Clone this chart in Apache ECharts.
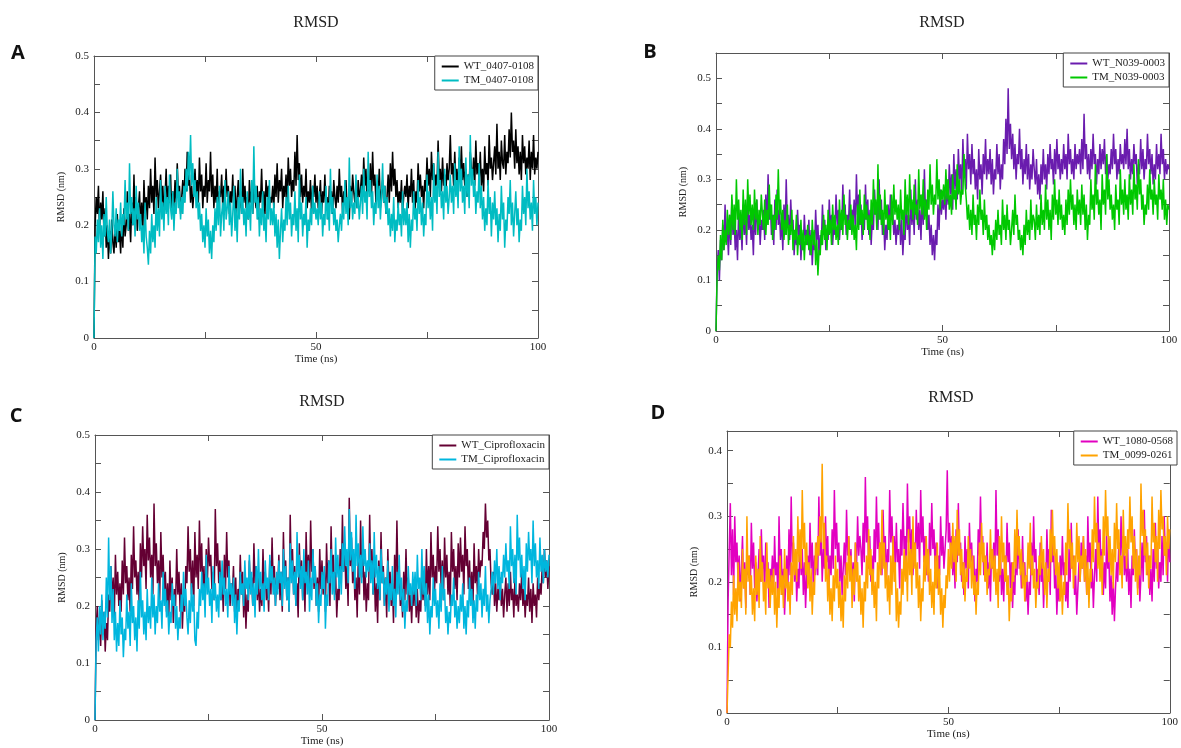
<!DOCTYPE html>
<html>
<head>
<meta charset="utf-8">
<script src="https://cdn.jsdelivr.net/npm/echarts/dist/echarts.min.js"></script>
<style>html,body{margin:0;padding:0;background:#fff;}#c{width:1181px;height:748px;}</style>
</head>
<body>
<div id="c"></div>
<script>
// Sampling interval of the trajectories (ns)
const STEP = 0.25;
const xTicks = [0, 50, 100];

// Panel A
const A_WT = [0,
0.2,0.25,0.22,0.27,0.19,0.24,0.21,0.26,0.18,0.23,0.16,0.2,0.14,0.19,0.15,0.21,0.17,0.15,0.2,0.16,
0.22,0.17,0.19,0.15,0.21,0.16,0.23,0.18,0.2,0.26,0.19,0.22,0.17,0.24,0.2,0.29,0.21,0.25,0.19,0.23,
0.26,0.2,0.24,0.19,0.28,0.22,0.25,0.21,0.27,0.23,0.3,0.24,0.27,0.22,0.32,0.25,0.28,0.23,0.26,0.29,
0.24,0.27,0.22,0.25,0.3,0.23,0.27,0.24,0.29,0.22,0.26,0.23,0.28,0.24,0.31,0.25,0.27,0.22,0.25,0.28,
0.24,0.3,0.26,0.33,0.27,0.29,0.24,0.27,0.23,0.26,0.3,0.25,0.28,0.24,0.32,0.26,0.29,0.23,0.27,0.25,
0.31,0.24,0.28,0.26,0.33,0.25,0.29,0.23,0.27,0.24,0.3,0.22,0.26,0.25,0.29,0.23,0.27,0.24,0.3,0.25,
0.27,0.22,0.26,0.24,0.29,0.23,0.27,0.21,0.25,0.28,0.23,0.26,0.22,0.3,0.24,0.27,0.23,0.25,0.21,0.28,
0.24,0.26,0.22,0.29,0.25,0.23,0.27,0.21,0.26,0.24,0.3,0.23,0.26,0.22,0.28,0.25,0.27,0.23,0.25,0.24,
0.27,0.23,0.29,0.25,0.31,0.24,0.28,0.26,0.3,0.23,0.27,0.25,0.29,0.24,0.32,0.27,0.3,0.25,0.28,0.26,
0.33,0.27,0.36,0.28,0.31,0.25,0.29,0.24,0.27,0.25,0.3,0.23,0.26,0.24,0.28,0.22,0.27,0.25,0.29,0.24,
0.27,0.23,0.25,0.28,0.22,0.26,0.24,0.29,0.23,0.25,0.21,0.27,0.24,0.26,0.22,0.28,0.25,0.23,0.27,0.24,
0.3,0.25,0.27,0.22,0.26,0.24,0.28,0.23,0.25,0.21,0.27,0.24,0.29,0.26,0.24,0.27,0.23,0.28,0.25,0.26,
0.29,0.25,0.32,0.27,0.3,0.24,0.28,0.26,0.31,0.25,0.33,0.27,0.29,0.24,0.27,0.25,0.3,0.23,0.26,0.28,
0.24,0.27,0.22,0.25,0.29,0.24,0.31,0.26,0.33,0.27,0.3,0.25,0.28,0.23,0.26,0.24,0.28,0.22,0.25,0.27,
0.25,0.29,0.23,0.27,0.25,0.3,0.24,0.28,0.22,0.26,0.24,0.31,0.26,0.29,0.25,0.27,0.23,0.28,0.26,0.32,
0.27,0.3,0.25,0.33,0.28,0.31,0.26,0.29,0.27,0.35,0.28,0.3,0.26,0.32,0.27,0.29,0.25,0.31,0.28,0.3,
0.36,0.29,0.31,0.27,0.33,0.28,0.3,0.26,0.32,0.29,0.34,0.28,0.31,0.27,0.3,0.25,0.29,0.27,0.33,0.3,
0.28,0.32,0.27,0.35,0.29,0.31,0.28,0.33,0.27,0.3,0.26,0.34,0.29,0.31,0.27,0.36,0.3,0.32,0.28,0.31,
0.34,0.29,0.38,0.3,0.33,0.28,0.35,0.31,0.3,0.36,0.29,0.33,0.31,0.37,0.32,0.4,0.33,0.35,0.3,0.37,
0.31,0.34,0.29,0.33,0.28,0.36,0.31,0.34,0.29,0.32,0.3,0.35,0.28,0.33,0.3,0.36,0.29,0.32,0.3,0.33];
const A_TM = [0,
0.18,0.15,0.21,0.17,0.23,0.16,0.2,0.14,0.22,0.18,0.25,0.19,0.17,0.21,0.15,0.19,0.26,0.2,0.18,0.23,
0.17,0.21,0.19,0.24,0.18,0.22,0.2,0.28,0.21,0.24,0.19,0.31,0.22,0.25,0.2,0.23,0.18,0.27,0.21,0.24,
0.19,0.22,0.17,0.2,0.15,0.24,0.18,0.16,0.13,0.19,0.15,0.22,0.17,0.2,0.16,0.25,0.19,0.23,0.18,0.28,
0.21,0.24,0.19,0.27,0.22,0.25,0.2,0.29,0.23,0.21,0.26,0.19,0.24,0.22,0.3,0.23,0.26,0.21,0.25,0.22,
0.27,0.24,0.3,0.26,0.33,0.28,0.36,0.27,0.31,0.25,0.28,0.23,0.26,0.21,0.24,0.19,0.22,0.17,0.2,0.16,
0.23,0.18,0.21,0.15,0.19,0.14,0.2,0.17,0.23,0.19,0.25,0.2,0.27,0.18,0.22,0.24,0.19,0.28,0.21,0.23,
0.26,0.2,0.24,0.18,0.22,0.27,0.19,0.23,0.17,0.25,0.21,0.3,0.22,0.25,0.2,0.23,0.18,0.26,0.21,0.24,
0.19,0.28,0.22,0.34,0.24,0.27,0.21,0.25,0.18,0.23,0.2,0.26,0.19,0.22,0.17,0.25,0.21,0.28,0.2,0.23,
0.2,0.24,0.18,0.22,0.16,0.21,0.14,0.19,0.23,0.17,0.21,0.19,0.25,0.2,0.27,0.21,0.24,0.18,0.22,0.2,
0.26,0.19,0.23,0.17,0.29,0.21,0.24,0.18,0.22,0.2,0.25,0.16,0.21,0.19,0.23,0.2,0.27,0.22,0.24,0.21,
0.23,0.2,0.26,0.21,0.24,0.18,0.22,0.2,0.27,0.21,0.24,0.19,0.3,0.22,0.25,0.2,0.23,0.19,0.21,0.17,
0.2,0.22,0.19,0.24,0.21,0.28,0.22,0.25,0.2,0.32,0.23,0.26,0.21,0.24,0.22,0.29,0.23,0.25,0.21,0.24,
0.27,0.22,0.3,0.24,0.26,0.21,0.33,0.25,0.28,0.23,0.26,0.2,0.24,0.22,0.29,0.23,0.27,0.21,0.25,0.31,
0.24,0.27,0.22,0.25,0.2,0.23,0.18,0.22,0.19,0.25,0.17,0.21,0.19,0.24,0.2,0.22,0.18,0.26,0.2,0.23,
0.2,0.24,0.17,0.22,0.16,0.21,0.19,0.26,0.21,0.23,0.19,0.28,0.22,0.25,0.2,0.24,0.18,0.22,0.2,0.29,
0.23,0.26,0.21,0.25,0.19,0.31,0.24,0.27,0.22,0.33,0.25,0.28,0.23,0.26,0.21,0.3,0.24,0.27,0.22,0.25,
0.29,0.24,0.27,0.22,0.31,0.25,0.28,0.23,0.34,0.26,0.3,0.24,0.27,0.22,0.32,0.25,0.29,0.23,0.36,0.27,
0.3,0.25,0.28,0.22,0.26,0.24,0.31,0.23,0.27,0.21,0.25,0.19,0.23,0.2,0.28,0.22,0.25,0.18,0.24,0.21,
0.26,0.2,0.23,0.17,0.22,0.19,0.27,0.21,0.24,0.16,0.21,0.19,0.25,0.22,0.28,0.2,0.24,0.18,0.22,0.26,
0.2,0.23,0.17,0.21,0.19,0.27,0.22,0.25,0.2,0.3,0.23,0.26,0.21,0.24,0.19,0.28,0.22,0.25,0.2,0.24];

// Panel B
const B_WT = [0,
0.12,0.16,0.1,0.18,0.14,0.21,0.16,0.25,0.18,0.2,0.15,0.23,0.17,0.26,0.19,0.22,0.16,0.2,0.14,0.24,
0.18,0.21,0.16,0.25,0.19,0.22,0.17,0.27,0.2,0.23,0.18,0.21,0.15,0.24,0.19,0.26,0.2,0.23,0.17,0.22,
0.2,0.24,0.18,0.27,0.21,0.31,0.22,0.25,0.19,0.23,0.17,0.26,0.2,0.28,0.21,0.24,0.18,0.22,0.16,0.25,
0.19,0.3,0.21,0.23,0.18,0.26,0.2,0.22,0.15,0.2,0.17,0.24,0.19,0.21,0.14,0.19,0.16,0.23,0.18,0.2,
0.17,0.22,0.15,0.2,0.13,0.18,0.16,0.24,0.18,0.21,0.15,0.19,0.17,0.25,0.19,0.22,0.16,0.2,0.18,0.26,
0.2,0.23,0.17,0.21,0.19,0.27,0.21,0.24,0.18,0.22,0.2,0.29,0.22,0.25,0.19,0.23,0.21,0.28,0.2,0.24,
0.22,0.26,0.2,0.31,0.23,0.27,0.21,0.25,0.18,0.23,0.2,0.29,0.22,0.26,0.19,0.24,0.17,0.22,0.2,0.28,
0.23,0.25,0.2,0.3,0.22,0.26,0.19,0.23,0.16,0.21,0.18,0.25,0.2,0.27,0.22,0.24,0.19,0.22,0.17,0.21,
0.19,0.24,0.17,0.22,0.15,0.2,0.18,0.26,0.2,0.23,0.17,0.28,0.21,0.25,0.19,0.3,0.22,0.26,0.2,0.24,
0.18,0.27,0.21,0.32,0.23,0.26,0.2,0.23,0.17,0.21,0.15,0.19,0.14,0.2,0.17,0.25,0.2,0.28,0.23,0.26,
0.24,0.28,0.22,0.3,0.25,0.33,0.27,0.31,0.24,0.35,0.28,0.32,0.26,0.36,0.3,0.33,0.27,0.38,0.31,0.34,
0.28,0.39,0.32,0.35,0.29,0.37,0.31,0.34,0.28,0.32,0.26,0.36,0.3,0.33,0.27,0.35,0.31,0.38,0.3,0.34,
0.31,0.36,0.29,0.34,0.27,0.32,0.3,0.37,0.31,0.35,0.28,0.33,0.3,0.38,0.33,0.42,0.35,0.48,0.36,0.41,
0.34,0.39,0.32,0.37,0.3,0.35,0.33,0.4,0.32,0.36,0.29,0.34,0.31,0.37,0.3,0.35,0.28,0.33,0.3,0.36,
0.32,0.29,0.34,0.27,0.31,0.26,0.33,0.29,0.36,0.3,0.33,0.28,0.35,0.31,0.37,0.32,0.34,0.29,0.36,0.31,
0.38,0.32,0.35,0.3,0.34,0.31,0.37,0.32,0.35,0.3,0.39,0.33,0.36,0.31,0.34,0.3,0.37,0.32,0.35,0.33,
0.36,0.31,0.38,0.32,0.43,0.34,0.37,0.31,0.35,0.3,0.36,0.32,0.39,0.33,0.35,0.29,0.34,0.31,0.37,0.32,
0.36,0.33,0.38,0.31,0.35,0.3,0.33,0.31,0.36,0.32,0.39,0.33,0.36,0.3,0.34,0.31,0.37,0.33,0.35,0.32,
0.38,0.33,0.4,0.32,0.36,0.3,0.34,0.31,0.37,0.33,0.35,0.29,0.33,0.31,0.38,0.32,0.36,0.3,0.34,0.32,
0.39,0.33,0.36,0.31,0.35,0.29,0.33,0.3,0.37,0.32,0.35,0.31,0.39,0.33,0.36,0.3,0.34,0.31,0.33,0.32];
const B_TM = [0,
0.11,0.15,0.12,0.19,0.14,0.22,0.16,0.2,0.17,0.24,0.19,0.23,0.18,0.27,0.2,0.25,0.19,0.3,0.22,0.26,
0.2,0.24,0.18,0.28,0.21,0.26,0.19,0.3,0.23,0.27,0.21,0.25,0.2,0.28,0.22,0.26,0.19,0.24,0.21,0.27,
0.23,0.2,0.26,0.19,0.24,0.21,0.29,0.22,0.25,0.18,0.23,0.2,0.27,0.22,0.32,0.23,0.26,0.2,0.24,0.18,
0.22,0.19,0.25,0.17,0.21,0.19,0.24,0.16,0.2,0.18,0.23,0.15,0.19,0.17,0.22,0.16,0.2,0.14,0.19,0.17,
0.21,0.16,0.19,0.15,0.22,0.17,0.2,0.13,0.18,0.11,0.16,0.15,0.2,0.17,0.23,0.18,0.21,0.16,0.24,0.19,
0.22,0.17,0.25,0.2,0.23,0.18,0.21,0.17,0.26,0.2,0.24,0.19,0.27,0.21,0.23,0.18,0.22,0.2,0.25,0.19,
0.23,0.18,0.21,0.16,0.25,0.2,0.28,0.21,0.24,0.19,0.27,0.22,0.25,0.2,0.23,0.18,0.26,0.21,0.3,0.23,
0.26,0.2,0.33,0.22,0.27,0.21,0.24,0.19,0.28,0.22,0.25,0.2,0.23,0.18,0.27,0.21,0.29,0.23,0.26,0.22,
0.25,0.2,0.28,0.22,0.24,0.19,0.3,0.23,0.27,0.21,0.31,0.24,0.26,0.22,0.29,0.23,0.25,0.21,0.32,0.24,
0.27,0.23,0.3,0.22,0.26,0.2,0.28,0.24,0.33,0.25,0.29,0.23,0.27,0.25,0.34,0.26,0.3,0.24,0.28,0.26,
0.29,0.25,0.32,0.26,0.3,0.24,0.27,0.23,0.31,0.26,0.28,0.24,0.33,0.27,0.3,0.25,0.28,0.27,0.35,0.29,
0.26,0.22,0.25,0.2,0.24,0.19,0.27,0.21,0.23,0.18,0.25,0.21,0.28,0.22,0.24,0.19,0.26,0.2,0.23,0.18,
0.21,0.17,0.19,0.15,0.2,0.16,0.22,0.18,0.24,0.19,0.21,0.17,0.26,0.2,0.23,0.18,0.25,0.2,0.22,0.17,
0.2,0.24,0.19,0.27,0.21,0.23,0.18,0.2,0.16,0.19,0.15,0.21,0.17,0.24,0.19,0.22,0.18,0.26,0.2,0.23,
0.22,0.18,0.25,0.2,0.23,0.19,0.27,0.21,0.24,0.2,0.29,0.22,0.26,0.2,0.24,0.18,0.27,0.22,0.3,0.23,
0.26,0.21,0.28,0.22,0.25,0.2,0.23,0.19,0.26,0.21,0.28,0.23,0.3,0.24,0.27,0.21,0.25,0.2,0.28,0.23,
0.26,0.21,0.29,0.23,0.27,0.2,0.25,0.18,0.23,0.21,0.3,0.24,0.27,0.22,0.33,0.25,0.28,0.23,0.26,0.2,
0.31,0.25,0.28,0.23,0.35,0.26,0.3,0.24,0.27,0.22,0.25,0.2,0.29,0.24,0.26,0.21,0.32,0.25,0.28,0.23,
0.3,0.24,0.27,0.22,0.31,0.25,0.28,0.23,0.33,0.26,0.29,0.24,0.34,0.27,0.3,0.24,0.27,0.21,0.25,0.23,
0.29,0.24,0.32,0.26,0.28,0.23,0.3,0.25,0.27,0.22,0.31,0.26,0.28,0.24,0.3,0.22,0.26,0.21,0.25,0.24];

// Panel C
const C_WT = [0,
0.16,0.2,0.14,0.18,0.13,0.21,0.15,0.19,0.12,0.17,0.14,0.22,0.19,0.27,0.21,0.25,0.18,0.29,0.22,0.26,
0.2,0.24,0.19,0.28,0.22,0.32,0.24,0.27,0.21,0.25,0.19,0.29,0.23,0.34,0.25,0.28,0.22,0.26,0.2,0.31,
0.25,0.34,0.27,0.3,0.23,0.36,0.28,0.32,0.25,0.29,0.22,0.38,0.27,0.31,0.24,0.28,0.21,0.33,0.25,0.29,
0.22,0.26,0.19,0.24,0.18,0.28,0.21,0.25,0.17,0.23,0.2,0.3,0.22,0.26,0.19,0.24,0.16,0.22,0.19,0.27,
0.24,0.34,0.26,0.3,0.22,0.28,0.2,0.33,0.25,0.29,0.23,0.35,0.26,0.31,0.22,0.27,0.2,0.3,0.24,0.32,
0.27,0.29,0.23,0.26,0.21,0.37,0.27,0.31,0.24,0.28,0.21,0.25,0.19,0.29,0.23,0.33,0.25,0.28,0.2,0.24,
0.22,0.27,0.19,0.25,0.17,0.23,0.2,0.29,0.22,0.26,0.18,0.24,0.16,0.22,0.19,0.28,0.23,0.25,0.2,0.31,
0.24,0.27,0.21,0.25,0.19,0.23,0.2,0.3,0.23,0.26,0.21,0.24,0.19,0.28,0.22,0.32,0.24,0.27,0.2,0.25,
0.23,0.29,0.21,0.26,0.19,0.33,0.24,0.28,0.21,0.25,0.19,0.36,0.25,0.3,0.22,0.27,0.2,0.24,0.18,0.31,
0.24,0.28,0.21,0.26,0.19,0.33,0.25,0.29,0.22,0.35,0.26,0.3,0.23,0.27,0.2,0.25,0.19,0.3,0.23,0.28,
0.22,0.26,0.19,0.31,0.24,0.28,0.2,0.34,0.25,0.29,0.22,0.26,0.18,0.23,0.21,0.3,0.24,0.36,0.26,0.31,
0.23,0.27,0.2,0.39,0.27,0.32,0.24,0.28,0.21,0.25,0.18,0.29,0.22,0.35,0.25,0.3,0.21,0.26,0.19,0.24,
0.21,0.36,0.25,0.3,0.22,0.27,0.19,0.24,0.17,0.28,0.21,0.33,0.24,0.27,0.2,0.25,0.18,0.3,0.23,0.26,
0.2,0.24,0.17,0.29,0.22,0.35,0.24,0.27,0.2,0.23,0.18,0.26,0.21,0.3,0.22,0.25,0.19,0.22,0.17,0.24,
0.2,0.25,0.18,0.23,0.17,0.21,0.19,0.26,0.21,0.24,0.2,0.3,0.22,0.27,0.21,0.33,0.25,0.29,0.22,0.27,
0.24,0.34,0.26,0.3,0.23,0.28,0.21,0.32,0.25,0.29,0.22,0.26,0.2,0.33,0.26,0.3,0.23,0.27,0.21,0.31,
0.25,0.32,0.26,0.29,0.22,0.34,0.27,0.3,0.23,0.28,0.21,0.26,0.2,0.31,0.24,0.27,0.22,0.3,0.25,0.28,
0.27,0.33,0.3,0.38,0.32,0.35,0.28,0.3,0.24,0.22,0.26,0.2,0.24,0.19,0.23,0.21,0.25,0.2,0.23,0.18,
0.22,0.25,0.19,0.24,0.2,0.26,0.21,0.23,0.18,0.25,0.2,0.22,0.19,0.24,0.21,0.26,0.2,0.23,0.18,0.22,
0.2,0.25,0.19,0.23,0.17,0.24,0.2,0.22,0.18,0.25,0.21,0.24,0.22,0.27,0.24,0.3,0.25,0.28,0.23,0.27];
const C_TM = [0,
0.14,0.18,0.12,0.2,0.15,0.22,0.14,0.19,0.16,0.25,0.18,0.32,0.21,0.27,0.17,0.23,0.14,0.19,0.12,0.17,
0.13,0.21,0.15,0.18,0.11,0.16,0.14,0.22,0.16,0.19,0.13,0.24,0.17,0.2,0.14,0.18,0.12,0.21,0.16,0.26,
0.18,0.21,0.15,0.19,0.14,0.23,0.17,0.2,0.16,0.25,0.18,0.22,0.15,0.2,0.17,0.24,0.19,0.21,0.16,0.26,
0.2,0.23,0.18,0.21,0.15,0.19,0.17,0.24,0.2,0.22,0.16,0.2,0.14,0.18,0.16,0.22,0.19,0.26,0.2,0.23,
0.18,0.15,0.21,0.17,0.24,0.19,0.22,0.14,0.13,0.19,0.16,0.23,0.2,0.26,0.21,0.24,0.18,0.29,0.22,0.25,
0.2,0.23,0.17,0.27,0.21,0.24,0.19,0.22,0.18,0.26,0.21,0.28,0.22,0.25,0.2,0.23,0.18,0.27,0.22,0.24,
0.2,0.25,0.17,0.22,0.15,0.21,0.19,0.26,0.22,0.24,0.2,0.28,0.23,0.25,0.21,0.29,0.22,0.26,0.2,0.24,
0.18,0.27,0.22,0.3,0.23,0.26,0.21,0.24,0.19,0.28,0.23,0.25,0.21,0.29,0.24,0.27,0.22,0.25,0.2,0.26,
0.22,0.28,0.24,0.26,0.2,0.3,0.23,0.27,0.21,0.25,0.19,0.31,0.24,0.28,0.22,0.26,0.2,0.33,0.25,0.29,
0.23,0.27,0.21,0.3,0.24,0.26,0.22,0.28,0.19,0.25,0.21,0.3,0.24,0.27,0.2,0.24,0.17,0.22,0.2,0.26,
0.23,0.27,0.16,0.22,0.2,0.28,0.24,0.3,0.22,0.26,0.21,0.32,0.25,0.29,0.23,0.27,0.22,0.31,0.26,0.34,
0.27,0.3,0.24,0.37,0.28,0.33,0.26,0.3,0.23,0.36,0.27,0.31,0.25,0.29,0.24,0.34,0.27,0.3,0.25,0.28,
0.26,0.31,0.24,0.28,0.22,0.33,0.25,0.29,0.23,0.27,0.21,0.3,0.24,0.26,0.2,0.25,0.22,0.28,0.19,0.24,
0.21,0.27,0.2,0.23,0.18,0.26,0.22,0.29,0.21,0.25,0.19,0.23,0.16,0.21,0.19,0.27,0.22,0.24,0.2,0.26,
0.22,0.26,0.2,0.29,0.23,0.25,0.21,0.3,0.22,0.27,0.19,0.24,0.17,0.22,0.15,0.2,0.18,0.25,0.2,0.23,
0.18,0.21,0.16,0.24,0.19,0.27,0.21,0.23,0.17,0.2,0.15,0.19,0.17,0.22,0.2,0.25,0.18,0.21,0.16,0.2,
0.17,0.22,0.19,0.24,0.16,0.2,0.15,0.21,0.18,0.25,0.2,0.23,0.17,0.21,0.16,0.22,0.19,0.26,0.21,0.24,
0.18,0.23,0.2,0.27,0.19,0.22,0.17,0.21,0.23,0.26,0.22,0.28,0.24,0.3,0.23,0.27,0.21,0.26,0.24,0.29,
0.25,0.31,0.26,0.28,0.23,0.34,0.27,0.3,0.24,0.29,0.22,0.36,0.28,0.32,0.25,0.29,0.23,0.27,0.21,0.31,
0.26,0.33,0.28,0.3,0.24,0.35,0.27,0.31,0.25,0.28,0.23,0.32,0.26,0.29,0.24,0.3,0.26,0.28,0.25,0.29];

// Panel D
const D_WT = [0,
0.17,0.25,0.32,0.21,0.28,0.18,0.3,0.23,0.26,0.2,0.24,0.17,0.22,0.27,0.19,0.23,0.16,0.25,0.21,0.24,
0.18,0.29,0.22,0.26,0.19,0.23,0.17,0.21,0.25,0.2,0.28,0.22,0.24,0.18,0.26,0.21,0.23,0.16,0.22,0.2,
0.24,0.19,0.27,0.21,0.23,0.17,0.3,0.22,0.25,0.18,0.22,0.15,0.2,0.24,0.19,0.28,0.21,0.33,0.23,0.26,
0.2,0.24,0.17,0.22,0.19,0.27,0.21,0.25,0.18,0.23,0.16,0.21,0.24,0.2,0.29,0.22,0.26,0.19,0.24,0.21,
0.26,0.21,0.33,0.24,0.28,0.2,0.25,0.22,0.3,0.23,0.27,0.19,0.24,0.21,0.28,0.22,0.34,0.25,0.29,0.23,
0.26,0.2,0.24,0.18,0.22,0.26,0.21,0.31,0.24,0.27,0.22,0.25,0.19,0.23,0.17,0.26,0.22,0.3,0.24,0.27,
0.25,0.21,0.29,0.23,0.36,0.26,0.3,0.22,0.27,0.2,0.24,0.19,0.28,0.23,0.33,0.25,0.29,0.22,0.26,0.21,
0.31,0.24,0.27,0.2,0.25,0.23,0.34,0.26,0.3,0.24,0.27,0.22,0.29,0.23,0.25,0.19,0.28,0.24,0.32,0.25,
0.27,0.22,0.35,0.26,0.3,0.24,0.28,0.21,0.26,0.23,0.31,0.25,0.29,0.22,0.34,0.26,0.3,0.23,0.27,0.21,
0.25,0.2,0.29,0.24,0.32,0.25,0.28,0.22,0.26,0.19,0.24,0.21,0.3,0.24,0.27,0.22,0.25,0.28,0.37,0.26,
0.29,0.24,0.27,0.21,0.25,0.19,0.28,0.23,0.32,0.24,0.26,0.2,0.23,0.18,0.27,0.22,0.25,0.19,0.29,0.23,
0.26,0.21,0.24,0.17,0.22,0.2,0.28,0.24,0.33,0.25,0.27,0.21,0.24,0.2,0.26,0.19,0.23,0.17,0.25,0.22,
0.26,0.21,0.34,0.24,0.28,0.2,0.25,0.18,0.22,0.17,0.24,0.2,0.29,0.23,0.26,0.19,0.23,0.16,0.21,0.18,
0.25,0.21,0.28,0.22,0.24,0.19,0.27,0.2,0.23,0.17,0.21,0.15,0.2,0.18,0.26,0.21,0.3,0.23,0.25,0.19,
0.22,0.18,0.26,0.2,0.23,0.16,0.21,0.19,0.28,0.22,0.25,0.18,0.31,0.23,0.26,0.19,0.22,0.15,0.2,0.17,
0.24,0.2,0.27,0.21,0.23,0.17,0.2,0.16,0.25,0.2,0.29,0.22,0.24,0.18,0.21,0.15,0.19,0.23,0.2,0.26,
0.22,0.27,0.2,0.24,0.18,0.3,0.23,0.26,0.19,0.22,0.16,0.21,0.25,0.2,0.33,0.24,0.28,0.21,0.25,0.18,
0.23,0.19,0.27,0.22,0.24,0.17,0.21,0.15,0.2,0.14,0.19,0.23,0.2,0.26,0.22,0.3,0.24,0.27,0.21,0.24,
0.2,0.25,0.18,0.22,0.16,0.24,0.21,0.28,0.22,0.25,0.19,0.23,0.17,0.21,0.26,0.2,0.31,0.23,0.27,0.21,
0.24,0.18,0.22,0.17,0.25,0.2,0.29,0.22,0.26,0.19,0.23,0.2,0.27,0.21,0.3,0.24,0.26,0.2,0.28,0.23];
const D_TM = [0,
0.06,0.12,0.1,0.17,0.13,0.21,0.15,0.19,0.14,0.23,0.17,0.2,0.16,0.25,0.19,0.22,0.15,0.3,0.2,0.24,
0.18,0.21,0.15,0.19,0.14,0.24,0.18,0.22,0.16,0.27,0.2,0.23,0.17,0.2,0.15,0.26,0.19,0.22,0.16,0.21,
0.18,0.22,0.15,0.2,0.13,0.19,0.16,0.24,0.18,0.21,0.16,0.25,0.19,0.22,0.17,0.2,0.15,0.23,0.18,0.27,
0.21,0.25,0.2,0.3,0.23,0.28,0.22,0.34,0.25,0.29,0.21,0.26,0.19,0.23,0.17,0.22,0.15,0.2,0.18,0.26,
0.22,0.27,0.24,0.3,0.26,0.38,0.25,0.29,0.2,0.24,0.17,0.22,0.15,0.19,0.14,0.21,0.17,0.24,0.19,0.22,
0.16,0.2,0.14,0.18,0.13,0.21,0.17,0.23,0.19,0.27,0.2,0.24,0.16,0.22,0.18,0.26,0.2,0.23,0.17,0.21,
0.15,0.19,0.13,0.2,0.17,0.24,0.19,0.28,0.21,0.25,0.18,0.22,0.16,0.2,0.14,0.23,0.19,0.26,0.21,0.31,
0.22,0.26,0.19,0.23,0.17,0.21,0.15,0.24,0.18,0.27,0.2,0.23,0.14,0.19,0.13,0.17,0.15,0.22,0.18,0.25,
0.2,0.24,0.17,0.28,0.21,0.25,0.18,0.3,0.22,0.26,0.19,0.23,0.16,0.21,0.14,0.19,0.17,0.24,0.2,0.27,
0.21,0.25,0.18,0.22,0.16,0.2,0.15,0.24,0.19,0.26,0.18,0.22,0.15,0.19,0.13,0.18,0.16,0.21,0.19,0.25,
0.2,0.26,0.22,0.29,0.23,0.27,0.2,0.31,0.24,0.28,0.21,0.25,0.19,0.23,0.17,0.22,0.2,0.27,0.22,0.25,
0.19,0.24,0.18,0.21,0.15,0.2,0.18,0.26,0.21,0.29,0.23,0.26,0.2,0.24,0.18,0.22,0.21,0.28,0.22,0.25,
0.2,0.24,0.18,0.22,0.16,0.27,0.21,0.3,0.23,0.26,0.2,0.24,0.18,0.21,0.14,0.19,0.17,0.23,0.2,0.28,
0.22,0.31,0.24,0.27,0.21,0.25,0.19,0.23,0.17,0.21,0.2,0.26,0.22,0.29,0.21,0.24,0.19,0.22,0.16,0.2,
0.19,0.24,0.21,0.27,0.22,0.25,0.18,0.23,0.16,0.22,0.2,0.28,0.23,0.31,0.24,0.27,0.21,0.25,0.19,0.23,
0.17,0.21,0.15,0.2,0.18,0.26,0.21,0.32,0.25,0.28,0.22,0.26,0.19,0.24,0.21,0.29,0.23,0.27,0.2,0.24,
0.22,0.27,0.2,0.25,0.18,0.23,0.16,0.22,0.2,0.28,0.23,0.33,0.26,0.29,0.22,0.26,0.2,0.24,0.18,0.3,
0.24,0.34,0.27,0.3,0.23,0.27,0.21,0.25,0.19,0.29,0.23,0.32,0.25,0.28,0.21,0.24,0.19,0.31,0.24,0.27,
0.22,0.28,0.25,0.33,0.26,0.3,0.22,0.27,0.2,0.25,0.18,0.24,0.21,0.35,0.27,0.31,0.24,0.28,0.21,0.26,
0.19,0.24,0.22,0.33,0.26,0.29,0.23,0.27,0.2,0.31,0.25,0.34,0.28,0.3,0.24,0.27,0.21,0.3,0.25,0.28];

const panels = [
  {letter:'A', names:['WT_0407-0108','TM_0407-0108'], data:[A_WT,A_TM], colors:['#000000','#00bcc2'], ymax:0.5,
   grid:{left:94, top:56, width:444, height:282}, title:[316,23], lpos:[18,53]},
  {letter:'B', names:['WT_N039-0003','TM_N039-0003'], data:[B_WT,B_TM], colors:['#6a1cae','#00c800'], ymax:0.55,
   grid:{left:716, top:53, width:453, height:278}, title:[942,23], lpos:[650,52]},
  {letter:'C', names:['WT_Ciprofloxacin','TM_Ciprofloxacin'], data:[C_WT,C_TM], colors:['#640033','#00b6de'], ymax:0.5,
   grid:{left:95, top:435, width:454, height:285}, title:[322,402], lpos:[16,416]},
  {letter:'D', names:['WT_1080-0568','TM_0099-0261'], data:[D_WT,D_TM], colors:['#e200c0','#ffa300'], ymax:0.43,
   grid:{left:727, top:431, width:450, height:282}, title:[951,398], lpos:[658,413]}
];

const SERIF = '"Liberation Serif","DejaVu Serif",serif';
const frame = {show:true, onZero:false, lineStyle:{color:'#555', width:1}};
const tick = {show:true, inside:true, length:6, lineStyle:{color:'#555', width:1}};

const option = {animation:false, backgroundColor:'#fff', grid:[], xAxis:[], yAxis:[], series:[], legend:[], graphic:[]};

function isTenth(v){ return Math.abs(v*10 - Math.round(v*10)) < 1e-6; }

panels.forEach((p, i) => {
  option.grid.push(Object.assign({containLabel:false}, p.grid));
  option.xAxis.push({type:'value', gridIndex:i, min:0, max:100, interval:25, position:'bottom',
    axisLine:frame, axisTick:tick, splitLine:{show:false},
    axisLabel:{margin:4, fontFamily:SERIF, fontSize:11, color:'#222',
      formatter:v => xTicks.indexOf(v) >= 0 ? String(v) : ''},
    name:'Time (ns)', nameLocation:'middle', nameGap:15,
    nameTextStyle:{fontFamily:SERIF, fontSize:11, color:'#222'}});
  option.xAxis.push({type:'value', gridIndex:i, min:0, max:100, interval:25, position:'top',
    axisLine:frame, axisTick:tick, splitLine:{show:false}, axisLabel:{show:false}});
  option.yAxis.push({type:'value', gridIndex:i, min:0, max:p.ymax, interval:0.05, position:'left',
    axisLine:frame, axisTick:tick, splitLine:{show:false},
    axisLabel:{margin:5, fontFamily:SERIF, fontSize:11, color:'#222', showMaxLabel: p.ymax === 0.5,
      formatter:v => isTenth(v) ? (v === 0 ? '0' : v.toFixed(1)) : ''},
    name:'RMSD (nm)', nameLocation:'middle', nameGap:28, nameRotate:90,
    nameTextStyle:{fontFamily:SERIF, fontSize:10, color:'#222'}});
  option.yAxis.push({type:'value', gridIndex:i, min:0, max:p.ymax, interval:0.05, position:'right',
    axisLine:frame, axisTick:tick, splitLine:{show:false}, axisLabel:{show:false}});

  p.names.forEach((nm, k) => {
    option.series.push({type:'line', name:nm, xAxisIndex:2*i, yAxisIndex:2*i,
      data:p.data[k].map((v, j) => [j*STEP, v]),
      showSymbol:false, symbol:'none', sampling:'none', z:2+k,
      lineStyle:{color:p.colors[k], width:1.5}, itemStyle:{color:p.colors[k]}});
  });

  option.legend.push({data:p.names, orient:'vertical', right:1181 - (p.grid.left + p.grid.width), top:p.grid.top,
    icon:'rect', itemWidth:17, itemHeight:2, itemGap:3, padding:[5,4,4,7],
    backgroundColor:'#fff', borderColor:'#444', borderWidth:1, borderRadius:0,
    selectedMode:false, textStyle:{fontFamily:SERIF, fontSize:11, color:'#222'}});

  option.graphic.push({type:'text', x:p.title[0], y:p.title[1],
    style:{text:'RMSD', font:'16px ' + SERIF, fill:'#222', textAlign:'center', textVerticalAlign:'middle'}});
  option.graphic.push({type:'text', x:p.lpos[0], y:p.lpos[1],
    style:{text:p.letter, font:'bold 20px "Open Sans","Liberation Sans",sans-serif', fill:'#111', textAlign:'center', textVerticalAlign:'middle'}});
});

const chart = echarts.init(document.getElementById('c'), null, {renderer:'canvas'});
chart.setOption(option);
</script>
</body>
</html>
